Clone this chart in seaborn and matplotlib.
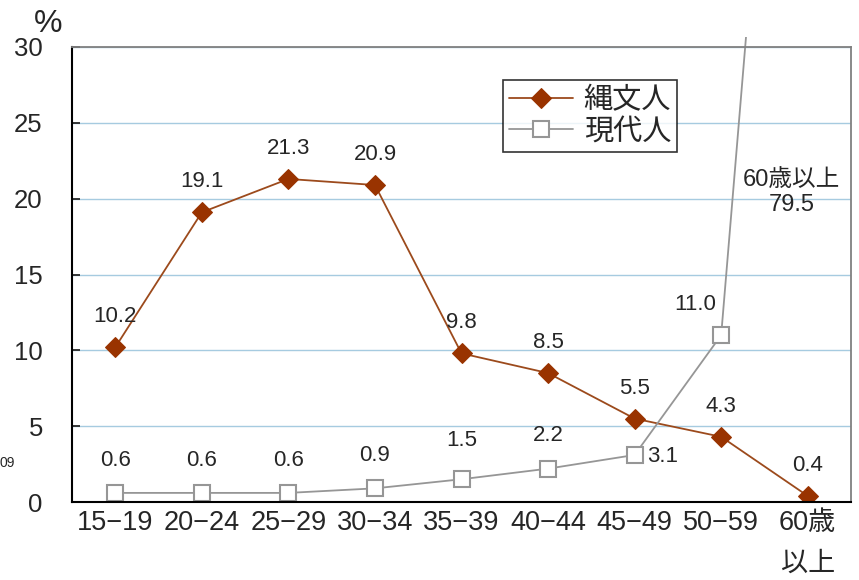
import numpy as np
import pandas as pd
import matplotlib
matplotlib.use('Agg')
import matplotlib.pyplot as plt
from matplotlib.patches import Rectangle
import seaborn as sns

# 年齢階級
age_labels = ['15−19', '20−24', '25−29', '30−34', '35−39', '40−44', '45−49', '50−59', '60歳\n以上']
jomon = [10.2, 19.1, 21.3, 20.9, 9.8, 8.5, 5.5, 4.3, 0.4]
modern = [0.6, 0.6, 0.6, 0.9, 1.5, 2.2, 3.1, 11.0, 79.5]
jomon_text = ['10.2', '19.1', '21.3', '20.9', '9.8', '8.5', '5.5', '4.3', '0.4']
modern_text = ['0.6', '0.6', '0.6', '0.9', '1.5', '2.2', '3.1', '11.0']
series_names = ['縄文人', '現代人']

sns.set_style('white')
plt.rcParams['font.family'] = ['Liberation Sans', 'Noto Sans CJK JP']

df = pd.DataFrame({'x': np.arange(len(age_labels)), '縄文人': jomon, '現代人': modern})

fig = plt.figure(figsize=(8.59, 5.80), dpi=100)
ax = fig.add_axes([72/859, 1-502/580, 779/859, 455/580])

brown = '#993300'
gray = '#969696'

sns.lineplot(data=df, x='x', y='縄文人', ax=ax, color='#9c4a1c', lw=1.3,
             marker='D', markersize=10, markerfacecolor=brown, markeredgecolor=brown,
             label=series_names[0])
sns.lineplot(data=df, x='x', y='現代人', ax=ax, color=gray, lw=1.3,
             marker='s', markersize=12, markerfacecolor='white', markeredgecolor=gray,
             markeredgewidth=1.5, label=series_names[1])

# 現代人の線は上端を少しはみ出す
ax.lines[1].set_clip_path(Rectangle((0, 0), 1, 1.022, transform=ax.transAxes))

ax.set_xlim(-0.5, 8.5)
ax.set_ylim(0, 30)
ax.set_yticks(range(0, 31, 5))
ax.set_xticks(range(len(age_labels)))
ax.set_xticklabels(age_labels, fontsize=19.5, linespacing=1.7)
ax.set_xticks(np.arange(0.5, 8, 1), minor=True)
ax.tick_params(axis='x', which='major', length=0, pad=6)
ax.tick_params(axis='x', which='minor', direction='in', length=6, width=1.3, color='black')
ax.tick_params(axis='y', direction='in', length=6, width=1.3, labelsize=18.5, pad=21, left=True)
ax.set_xlabel('')
ax.set_ylabel('')

ax.yaxis.grid(True, color='#a6cbe0', lw=1)
ax.xaxis.grid(False)
for s in ['left', 'bottom']:
    ax.spines[s].set_color('black')
    ax.spines[s].set_linewidth(1.5)
for s in ['top', 'right']:
    ax.spines[s].set_color('#808080')
    ax.spines[s].set_linewidth(1.3)

# データラベル
for i, t in enumerate(jomon_text):
    ax.annotate(t, (i, jomon[i]), xytext=(0, 22), textcoords='offset points',
                ha='center', va='center', fontsize=16)
modern_off = [(0, 23), (0, 23), (0, 23), (0, 24), (0, 28), (0, 24), (9, -1), (-19, 22)]
for i, t in enumerate(modern_text):
    dx, dy = modern_off[i]
    ax.annotate(t, (i, modern[i]), xytext=(dx, dy), textcoords='offset points',
                ha='left' if dx > 0 else 'center', va='center', fontsize=16)
ax.text(7.81, 20.4, '60歳以上\n%.1f' % modern[8], ha='center', va='center',
        fontsize=17, linespacing=1.15)

leg = ax.legend(loc='upper left', bbox_to_anchor=(0.553, 0.928), fontsize=21,
                frameon=True, fancybox=False, handlelength=2.2, borderpad=0.22,
                labelspacing=0.12, handletextpad=0.35, borderaxespad=0)
leg.get_frame().set_edgecolor('black')
leg.get_frame().set_linewidth(1.2)

fig.text(48/859, 1-24/580, '%', ha='center', va='center', fontsize=23)
fig.text(0.0, 1-463/580, '09', ha='left', va='center', fontsize=10)

fig.savefig('out.png', dpi=100)
